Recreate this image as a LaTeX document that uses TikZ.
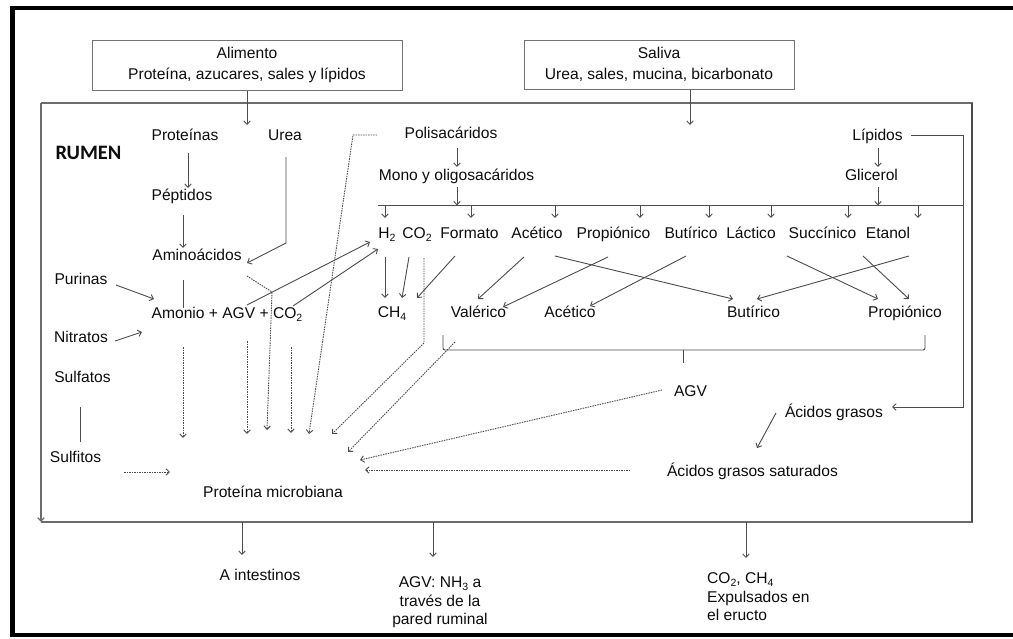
\documentclass[tikz,border=0pt]{standalone}
\usepackage{fontspec}
\setmainfont{Liberation Sans}
\newfontfamily\rumenfont{Carlito}
\usetikzlibrary{arrows.meta,calc}
\definecolor{ink}{gray}{0.05}
\definecolor{wire}{gray}{0.3}
\definecolor{dotc}{gray}{0.3}
\definecolor{boxc}{gray}{0.45}
\newcommand\diagfont{\fontsize{15.6}{19}\selectfont}
\newcommand\lowi[1]{\raisebox{-3.2pt}{\fontsize{10.5}{10}\selectfont #1}}
\begin{document}
\begin{tikzpicture}[x=1pt,y=-1pt,
  txt/.style={inner sep=0pt, text height=11.2pt, text depth=0pt, text=ink, font=\diagfont},
  outtxt/.style={inner sep=0pt, text=ink, font=\fontsize{15.6}{18.5}\selectfont},
  inbox/.style={draw=boxc, line width=1pt, inner sep=0pt, text=ink, align=center,
                font=\fontsize{15.6}{21}\selectfont},
  ln/.style={draw=wire, line width=0.9pt},
  dotl/.style={draw=dotc, line width=0.9pt, dash pattern=on 1.5pt off 1pt},
  tip/.style={-{Straight Barb[length=3.5pt,width=6.5pt]}},
  rumenline/.style={draw=gray!85!black, line width=1.2pt}]
\useasboundingbox (0,0) rectangle (1013,638);
\fill[white] (0,0) rectangle (1013,638);

% outer frame
\draw[black, line width=4.5pt] (1030,8) -- (12.5,8) -- (12.5,635) -- (1030,635);

% rumen compartment
\coordinate (rNW) at (41,103);
\coordinate (rSE) at (972,522);
\draw[rumenline] (rSE -| rNW) -- (rSE) -- (rNW -| rSE) -- (rNW);
\draw[draw=wire, line width=2pt] (rSE) -- (rNW -| rSE);
\draw[rumenline, tip] (rNW) -- (rSE -| rNW);

% inputs
\node[inbox, minimum width=310pt, minimum height=50pt] (alim) at (247,65)
  {Alimento\\Proteína, azucares, sales y lípidos};
\node[inbox, minimum width=270pt, minimum height=49pt] (saliva) at (659,64.5)
  {Saliva\\Urea, sales, mucina, bicarbonato};
\coordinate (alimIn) at (247,125);
\coordinate (salIn) at (690,125);
\draw[ln, tip] (alim.south) -- (alimIn);
\draw[ln, tip] (saliva.south -| salIn) -- (salIn);

% labels inside the rumen
\node[inner sep=0pt, text=ink, font=\rumenfont\bfseries\fontsize{20.5}{22}\selectfont] (rumen) at (88.5,153) {RUMEN};
\node[txt] (prot) at (185,135) {Proteínas};
\node[txt] (urea) at (285,135) {Urea};
\node[txt] (pept) at (182,195) {Péptidos};
\node[txt] (amino) at (197,255) {Aminoácidos};
\node[txt] (amonio) at (227,313) {Amonio + AGV + CO\lowi{2}};
\node[txt] (purinas) at (81,279) {Purinas};
\node[txt] (nitratos) at (81,337) {Nitratos};
\node[txt] (sulfatos) at (82.5,377) {Sulfatos};
\node[txt] (sulfitos) at (75.5,457) {Sulfitos};
\node[txt] (protmic) at (273,492) {Proteína microbiana};
\node[txt] (polis) at (451,133) {Polisacáridos};
\node[txt] (mono) at (456.5,175) {Mono y oligosacáridos};
\node[txt] (lipidos) at (877.5,135) {Lípidos};
\node[txt] (glicerol) at (871.5,175) {Glicerol};

\node[txt] (h2) at (387,233) {H\lowi{2}};
\node[txt] (co2) at (417,233) {CO\lowi{2}};
\node[txt] (formato) at (469.5,233) {Formato};
\node[txt] (acet1) at (537,233) {Acético};
\node[txt] (prop1) at (613.5,233) {Propiónico};
\node[txt] (but1) at (691,233) {Butírico};
\node[txt] (lact) at (751,233) {Láctico};
\node[txt] (succ) at (822.5,233) {Succínico};
\node[txt] (etanol) at (888,233) {Etanol};

\node[txt] (ch4) at (392,312) {CH\lowi{4}};
\node[txt] (val) at (478.5,312) {Valérico};
\node[txt] (acet2) at (570,312) {Acético};
\node[txt] (but2) at (753.5,312) {Butírico};
\node[txt] (prop2) at (905,312) {Propiónico};

\node[txt] (agv) at (690.5,391) {AGV};
\node[txt] (acgr) at (834,412) {Ácidos grasos};
\node[txt] (acsat) at (752.5,471) {Ácidos grasos saturados};

% outputs
\node[txt] (intest) at (260,575) {A intestinos};
\node[outtxt, align=center, anchor=north] (agvout) at (440,576.4)
  {AGV: NH\lowi{3} a\\través de la\\pared ruminal};
\node[outtxt, align=left, anchor=north west] (eructo) at (707,572.4)
  {CO\lowi{2}, CH\lowi{4}\\Expulsados en\\el eructo};

% nitrogen side
\draw[ln, tip] ($(prot.center)+(3,18)$) -- ($(pept.center)+(6,-7)$);
\draw[ln, tip] ($(pept.center)+(1,20)$) -- ($(amino.center)+(-14,-7)$);
\draw[ln] ($(amino.center)+(-14,25)$) -- ($(amonio.center)+(-44,-5)$);
\draw[ln, tip] ($(urea.center)+(1,22)$) -- ++(0,86) -- ($(amino.center)+(50,8)$);
\draw[ln, tip] ($(purinas.center)+(35,6)$) -- ($(amonio.center)+(-73,-14)$);
\draw[ln, tip] ($(nitratos.center)+(34,4)$) -- ($(amonio.center)+(-85,19)$);
\draw[ln] ($(sulfatos.center)+(-2.5,30)$) -- ($(sulfitos.center)+(4.5,-15)$);
\draw[ln, tip] ($(amonio.center)+(20,-8)$) -- ($(h2.center)+(-17,9)$);
\draw[ln, tip] ($(amonio.center)+(66,-7)$) -- ($(h2.center)+(-9,16)$);

% carbohydrate side
\draw[ln, tip] ($(polis.center)+(6,15)$) -- ($(mono.center)+(0.5,-8)$);
\coordinate (barL) at (378,205.5);
\coordinate (barR) at (963,205.5);
\draw[ln] (barL) -- (barR);
\draw[ln, tip] ($(mono.center)+(0.5,12)$) -- ($(mono.center)+(0.5,30.5)$);
\foreach \n/\dx in {h2/-2, formato/1.5, acet1/18, prop1/26.5, but1/18, lact/20, succ/25.5, etanol/30}
  \draw[ln, tip] ($(\n.center)+(\dx,-27.5)$) -- ($(\n.center)+(\dx,-15)$);

% lipid side
\draw[ln, tip] ($(lipidos.center)+(0.5,13)$) -- ($(glicerol.center)+(6.5,-8)$);
\draw[ln, tip] ($(glicerol.center)+(6.5,12)$) -- ($(glicerol.center)+(6.5,30.5)$);
\draw[ln, tip] ($(lipidos.center)+(33.5,0)$) -- ++(52,0) |- ($(acgr.center)+(58,-5)$);
\draw[ln, tip] ($(acgr.center)+(-58,1)$) -- ($(acsat.center)+(4.5,-23)$);

% fermentation products
\draw[ln, tip] ($(h2.center)+(-2,24)$) -- ($(ch4.center)+(-7,-14)$);
\draw[ln, tip] ($(co2.center)+(-8,24)$) -- ($(ch4.center)+(10,-14)$);
\draw[ln, tip] ($(formato.center)+(-14.5,23)$) -- ($(ch4.center)+(25,-14)$);
\draw[ln, tip] ($(acet1.center)+(-13,24)$) -- ($(val.center)+(-0.5,-13)$);
\draw[ln, tip] ($(prop1.center)+(-5.5,24)$) -- ($(val.center)+(24.5,-5)$);
\draw[ln, tip] ($(acet1.center)+(18,23)$) -- ($(but2.center)+(-20.5,-13)$);
\draw[ln, tip] ($(but1.center)+(-5,23)$) -- ($(acet2.center)+(20,-6)$);
\draw[ln, tip] ($(lact.center)+(36,23)$) -- ($(prop2.center)+(-27,-13)$);
\draw[ln, tip] ($(succ.center)+(40.5,23)$) -- ($(prop2.center)+(4,-13)$);
\draw[ln, tip] ($(etanol.center)+(21,23)$) -- ($(but2.center)+(3.5,-13)$);

% AGV bracket
\coordinate (brL) at (443,335);
\coordinate (brR) at (925,335);
\coordinate (brM) at (683,350);
\draw[ln, rounded corners=2pt] (brL) -- ++(0,15) -- ($(brR)+(0,15)$) -- (brR);
\draw[ln] (brM) -- ++(0,13);

% flows to microbial protein
\draw[dotl, tip] ($(sulfitos.center)+(48.5,15)$) -- ($(protmic.center)+(-103,-20)$);
\draw[dotl, tip] ($(amonio.center)+(-44,34)$) -- ($(protmic.center)+(-90,-54)$);
\draw[dotl, tip] ($(amonio.center)+(20,28)$) -- ($(protmic.center)+(-26,-58)$);
\draw[dotl, tip] ($(amonio.center)+(64,34)$) -- ($(protmic.center)+(18,-59)$);
\draw[dotl, tip] ($(amino.center)+(50,21)$) -- ++(25,16) -- ($(protmic.center)+(-6,-62)$);
\draw[dotl, tip] ($(polis.center)+(-74,2)$) -- ++(-24,0) -- ($(protmic.center)+(36,-58)$);
\draw[dotl, tip] ($(co2.center)+(7,25)$) -- ++(0,85) -- ($(protmic.center)+(59,-58)$);
\draw[dotl, tip] ($(brL)+(12,7)$) -- ($(protmic.center)+(75,-40)$);
\draw[dotl, tip] ($(agv.center)+(-28.5,-1)$) -- ($(protmic.center)+(87,-32)$);
\draw[dotl, tip] ($(acsat.center)+(-122.5,-1)$) -- ($(protmic.center)+(92,-22)$);

% exits from the rumen
\coordinate (outA) at ($(intest.center)+(-18,-20)$);
\coordinate (outB) at ($(agvout.north)+(-7,-19.4)$);
\coordinate (outC) at ($(eructo.north west)+(39,-14.4)$);
\draw[ln, tip] (outA |- rSE) -- (outA);
\draw[ln, tip] (outB |- rSE) -- (outB);
\draw[ln, tip] (outC |- rSE) -- (outC);
\end{tikzpicture}
\end{document}
